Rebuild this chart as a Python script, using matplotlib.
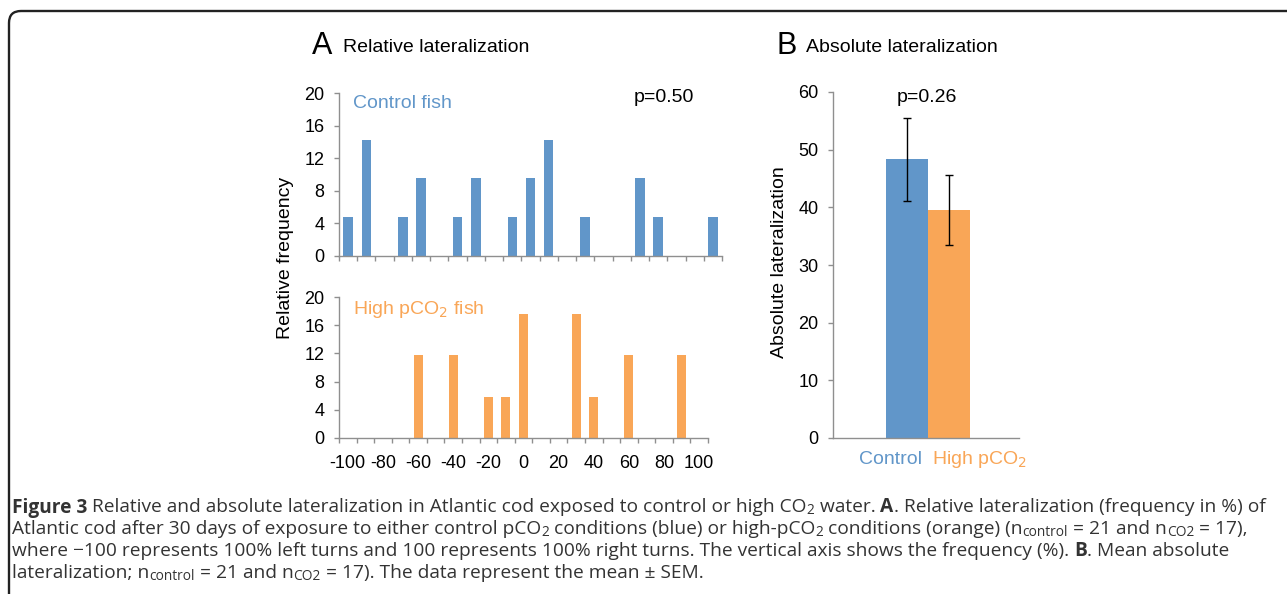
import matplotlib
matplotlib.use("Agg")
import matplotlib.pyplot as plt
import numpy as np
from matplotlib.patches import FancyBboxPatch
from matplotlib.transforms import IdentityTransform

# ---- data ----
categories = list(range(-100, 101, 10))
control_freq = [4.76, 14.29, 0, 4.76, 9.52, 0, 4.76, 9.52, 0, 4.76, 9.52,
                14.29, 0, 4.76, 0, 0, 9.52, 4.76, 0, 0, 4.76]
high_freq = [0, 0, 0, 0, 11.76, 0, 11.76, 0, 5.88, 5.88, 17.65,
             0, 0, 17.65, 5.88, 0, 11.76, 0, 0, 11.76, 0]
freq_ticks = [0, 4, 8, 12, 16, 20]

groups = ["Control", "High pCO$_2$"]
abs_mean = [48.3, 39.5]
abs_sem = [7.2, 6.1]
abs_ticks = [0, 10, 20, 30, 40, 50, 60]

blue = "#6196C9"
orange = "#F9A657"
axis_gray = "#8f8f8f"

W, H = 1287, 594
fig = plt.figure(figsize=(W / 100, H / 100), dpi=100)
plt.rcParams['font.family'] = ['Liberation Sans', 'DejaVu Sans']


def fx(x):
    return x / W


def fy(y):
    return 1 - y / H


def style_axis(ax):
    for s in ["top", "right"]:
        ax.spines[s].set_visible(False)
    for s in ["left", "bottom"]:
        ax.spines[s].set_color(axis_gray)
        ax.spines[s].set_linewidth(1.0)
    ax.tick_params(axis="both", colors=axis_gray, labelcolor="black",
                   labelsize=13, direction="out", length=3.6, width=1, pad=7)


def hist_panel(rect, values, color, show_labels):
    ax = fig.add_axes(rect)
    idx = np.arange(len(categories))
    ax.bar(idx, values, width=0.52, color=color, edgecolor="none")
    ax.set_xlim(-0.5, len(categories) - 0.5)
    ax.set_ylim(0, 20)
    ax.set_yticks(freq_ticks)
    style_axis(ax)
    ax.set_xticks(np.arange(-0.5, len(categories)), minor=True)
    ax.tick_params(axis="x", which="minor", length=3.6, width=1, colors=axis_gray)
    if show_labels:
        ax.set_xticks(idx[::2])
        ax.set_xticklabels([str(c) for c in categories[::2]])
        ax.tick_params(axis="x", which="major", length=0, pad=12)
    else:
        ax.set_xticks([])
    return ax


# ---- panel A ----
ax_top = hist_panel([fx(339), fy(256), fx(722) - fx(339), fy(93) - fy(256)],
                    control_freq, blue, False)
ax_bot = hist_panel([fx(339), fy(438), fx(708) - fx(339), fy(297) - fy(438)],
                    high_freq, orange, True)

fig.text(fx(312), fy(46), "A", fontsize=22, va="center", ha="left")
fig.text(fx(343), fy(48), "Relative lateralization", fontsize=14, va="center", ha="left")
fig.text(fx(353), fy(104), "Control fish", fontsize=14, color=blue, va="center")
fig.text(fx(634), fy(98), "p=0.50", fontsize=14, va="center")
fig.text(fx(353), fy(309), "High pCO$_2$ fish", fontsize=14, color=orange, va="center")
fig.text(fx(286), fy(258), "Relative frequency", fontsize=14, rotation=90,
         va="center", ha="center")

# ---- panel B ----
ax_b = fig.add_axes([fx(833), fy(438), fx(1019) - fx(833), fy(92) - fy(438)])
bw = 0.226
xpos = [0.51 - bw / 2, 0.51 + bw / 2]
ax_b.bar(xpos, abs_mean, width=bw, color=[blue, orange], edgecolor="none")
ax_b.errorbar(xpos, abs_mean, yerr=abs_sem, fmt="none", ecolor="black",
              elinewidth=1, capsize=3, capthick=1)
ax_b.set_xlim(0, 1)
ax_b.set_ylim(0, 60)
ax_b.set_yticks(abs_ticks)
style_axis(ax_b)
ax_b.set_xticks([])

fig.text(fx(776), fy(46), "B", fontsize=22, va="center", ha="left")
fig.text(fx(806), fy(48), "Absolute lateralization", fontsize=14, va="center", ha="left")
fig.text(fx(927), fy(98), "p=0.26", fontsize=14, va="center", ha="center")
fig.text(fx(779), fy(262), "Absolute lateralization", fontsize=14, rotation=90,
         va="center", ha="center")
fig.text(fx(890), fy(459), groups[0], fontsize=14, color=blue, va="center", ha="center")
fig.text(fx(932), fy(459), groups[1], fontsize=14, color=orange, va="center", ha="left")

# ---- frame ----
frame = FancyBboxPatch((9, -40), 1400, H - 11 + 40,
                       boxstyle="round,pad=0,rounding_size=12",
                       transform=IdentityTransform(), facecolor="none",
                       edgecolor="#222222", linewidth=1.7, clip_on=False)
fig.patches.append(frame)

# ---- caption ----
cap_font = ['Open Sans', 'DejaVu Sans']
cap_color = "#333333"
caption = [
    [("Figure 3", "b"), (" Relative and absolute lateralization in Atlantic cod exposed to control or high CO", "n"),
     ("2", "s"), (" water. ", "n"), ("A", "b"), (". Relative lateralization (frequency in %) of", "n")],
    [("Atlantic cod after 30 days of exposure to either control pCO", "n"), ("2", "s"),
     (" conditions (blue) or high-pCO", "n"), ("2", "s"), (" conditions (orange) (n", "n"),
     ("control", "s"), (" = 21 and n", "n"), ("CO2", "s"), (" = 17),", "n")],
    [("where \u2212100 represents 100% left turns and 100 represents 100% right turns. The vertical axis shows the frequency (%). ", "n"),
     ("B", "b"), (". Mean absolute", "n")],
    [("lateralization; n", "n"), ("control", "s"), (" = 21 and n", "n"), ("CO2", "s"),
     (" = 17). The data represent the mean \u00b1 SEM.", "n")],
]
line_y = [505, 527, 549, 571]

renderer = fig.canvas.get_renderer()


def seg_width(text, size, weight):
    t1 = fig.text(0, 0, text + "|", fontsize=size, fontweight=weight, family=cap_font)
    t2 = fig.text(0, 0, "|", fontsize=size, fontweight=weight, family=cap_font)
    w = t1.get_window_extent(renderer).width - t2.get_window_extent(renderer).width
    t1.remove()
    t2.remove()
    return w


def seg_props(kind, size):
    if kind == "b":
        return size, "bold", 0
    if kind == "s":
        return size * 0.72, "normal", -4
    return size, "normal", 0


def line_width(line, size):
    total = 0
    for text, kind in line:
        s, wgt, _ = seg_props(kind, size)
        total += seg_width(text, s, wgt)
    return total


base = 12.0
cap_size = base * 1250 / line_width(caption[0], base)

for line, yy in zip(caption, line_y):
    x = 12
    for text, kind in line:
        s, wgt, dy = seg_props(kind, cap_size)
        fig.text(fx(x), fy(yy - dy), text, fontsize=s, fontweight=wgt,
                 family=cap_font, color=cap_color, va="center_baseline")
        x += seg_width(text, s, wgt)

fig.savefig("out.png", dpi=100)
